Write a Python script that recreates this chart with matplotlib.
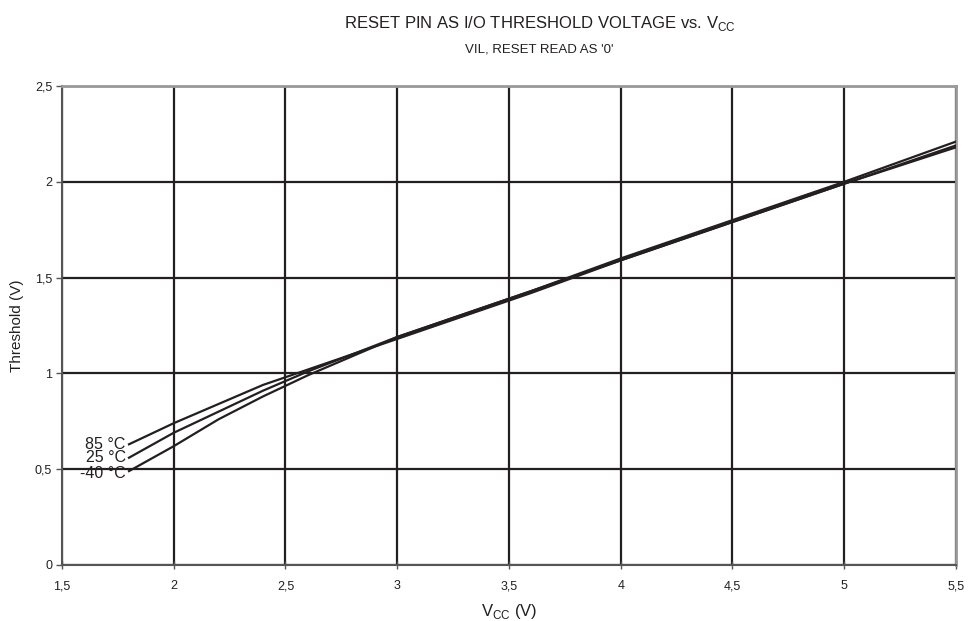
import matplotlib
matplotlib.use("Agg")
import matplotlib.pyplot as plt

plt.rcParams['font.family'] = ['Liberation Sans', 'DejaVu Sans']
plt.rcParams['mathtext.fontset'] = 'custom'
plt.rcParams['mathtext.rm'] = 'Liberation Sans'

vcc = [1.8, 2.0, 2.2, 2.4, 2.6, 2.8, 3.0, 3.3, 3.6, 4.0, 4.5, 5.0, 5.5]
t_m40 = [0.49, 0.62, 0.76, 0.88, 0.99, 1.09, 1.19, 1.31, 1.43, 1.60, 1.80, 2.00, 2.21]
t_25 = [0.56, 0.69, 0.80, 0.91, 1.01, 1.10, 1.19, 1.31, 1.43, 1.59, 1.79, 1.99, 2.19]
t_85 = [0.63, 0.74, 0.84, 0.94, 1.02, 1.10, 1.18, 1.30, 1.42, 1.59, 1.79, 1.99, 2.18]
series = [("85 °C", t_85), ("25 °C", t_25), ("-40 °C", t_m40)]

xticks = [1.5, 2, 2.5, 3, 3.5, 4, 4.5, 5, 5.5]
xticklabels = ["1,5", "2", "2,5", "3", "3,5", "4", "4,5", "5", "5,5"]
yticks = [0, 0.5, 1, 1.5, 2, 2.5]
yticklabels = ["0", "0,5", "1", "1,5", "2", "2,5"]

fig = plt.figure(figsize=(9.68, 6.21), dpi=100)
ax = fig.add_axes([0.064, 0.0902, 0.9236, 0.7713])
ink = '#231f20'

for label, ys in series:
    ax.plot(vcc, ys, color=ink, lw=1.6, zorder=3)
    ax.text(vcc[0] - 0.015, ys[0] - (0.012 if label.startswith('-') else 0), label,
            ha='right', va='center', fontsize=11.5, color=ink)

ax.set_xlim(1.5, 5.5)
ax.set_ylim(0, 2.5)
ax.set_xticks(xticks)
ax.set_xticklabels(xticklabels)
ax.set_yticks(yticks)
ax.set_yticklabels(yticklabels)
ax.grid(True, color=ink, lw=1.6)
ax.set_axisbelow(True)
ax.tick_params(axis='x', direction='inout', length=6, width=1, color='#555555',
               labelsize=9, pad=8, labelcolor=ink)
ax.tick_params(axis='y', direction='out', length=4, width=1, color='#555555',
               labelsize=9, pad=3, labelcolor=ink)
for s in ['left', 'bottom']:
    ax.spines[s].set_color('#555555')
    ax.spines[s].set_linewidth(1.5)
for s in ['top', 'right']:
    ax.spines[s].set_color('#999999')
    ax.spines[s].set_linewidth(2)

ax.set_xlabel(r'V$_{\mathrm{CC}}$ (V)', fontsize=12, color=ink, labelpad=7)
ax.set_ylabel('Threshold (V)', fontsize=11, color=ink, labelpad=8)

fig.text(0.558, 0.955, r'RESET PIN AS I/O THRESHOLD VOLTAGE vs. V$_{\mathrm{CC}}$',
         ha='center', va='baseline', fontsize=12, color=ink)
fig.text(0.557, 0.9147, "VIL, RESET READ AS '0'", ha='center', va='baseline',
         fontsize=9.5, color=ink)

fig.savefig('out.png', dpi=100)
